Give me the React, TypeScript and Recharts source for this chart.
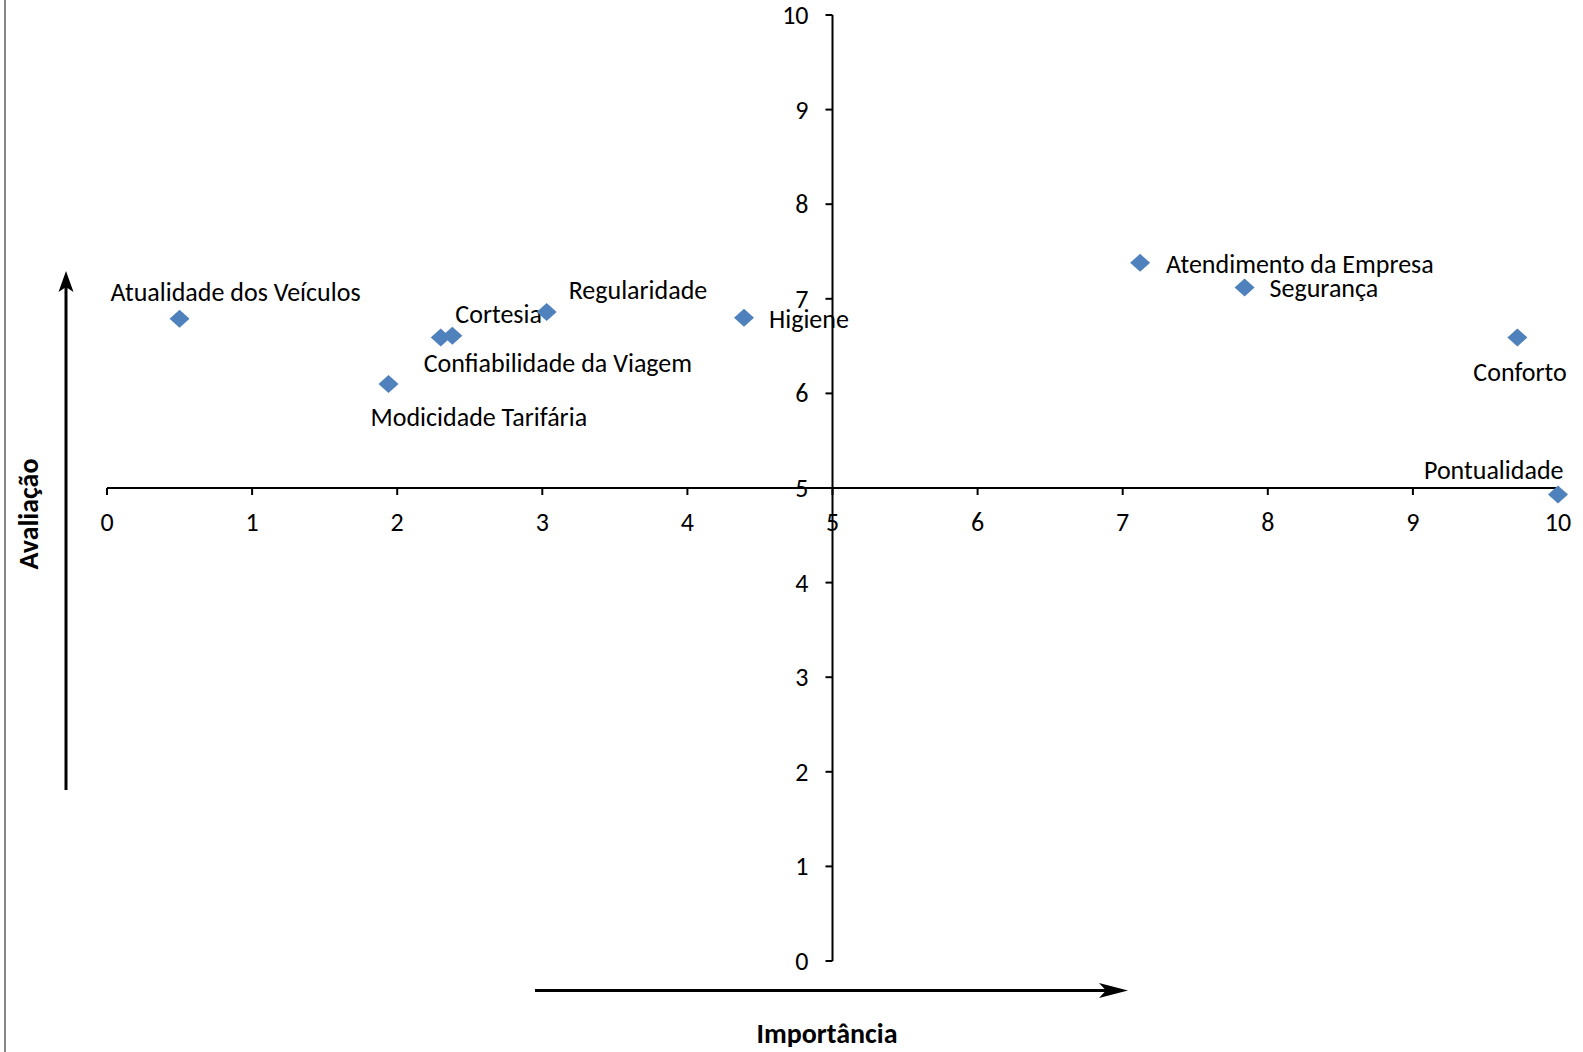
import React from 'react';
import { ScatterChart, Scatter, XAxis, YAxis, ReferenceLine, ReferenceDot } from 'recharts';

const names = [
  'Atualidade dos Veículos',
  'Confiabilidade da Viagem',
  'Cortesia',
  'Modicidade Tarifária',
  'Regularidade',
  'Higiene',
  'Atendimento da Empresa',
  'Segurança',
  'Conforto',
  'Pontualidade',
];
const importancia = [0.5, 2.3, 2.38, 1.94, 3.03, 4.39, 7.12, 7.84, 9.72, 10.0];
const avaliacao = [6.79, 6.59, 6.61, 6.1, 6.86, 6.8, 7.38, 7.12, 6.59, 4.93];
const xTicks = [0, 1, 2, 3, 4, 5, 6, 7, 8, 9, 10];
const yTicks = [0, 1, 2, 3, 4, 5, 6, 7, 8, 9, 10];
const xTitle = 'Importância';
const yTitle = 'Avaliação';

// label placement (pixel offsets from the marker, text-anchor start)
const labelPlacement: Record<string, { dx: number; dy: number }> = {
  'Atualidade dos Veículos': { dx: -69, dy: -27 },
  'Confiabilidade da Viagem': { dx: -17, dy: 25 },
  'Cortesia': { dx: 3, dy: -22 },
  'Modicidade Tarifária': { dx: -18, dy: 33 },
  'Regularidade': { dx: 22, dy: -22 },
  'Higiene': { dx: 25, dy: 1 },
  'Atendimento da Empresa': { dx: 26, dy: 1 },
  'Segurança': { dx: 25, dy: 1 },
  'Conforto': { dx: -44, dy: 34 },
  'Pontualidade': { dx: -134, dy: -25 },
};

const data = names.map((name, i) => ({ name, x: importancia[i], y: avaliacao[i] }));

const FONT = 'Carlito, Lato, "Open Sans", sans-serif';
const FS = 26;
const TFS = 28;
const BLUE = '#4F81BD';

const Diamond = (p: any) => {
  const { cx, cy, payload } = p;
  if (cx == null || cy == null) return null;
  const place = labelPlacement[payload.name] || { dx: 12, dy: 0 };
  return (
    <g>
      <polygon
        points={`${cx},${cy - 9} ${cx + 10},${cy} ${cx},${cy + 9} ${cx - 10},${cy}`}
        fill={BLUE}
      />
      <text
        x={cx + place.dx}
        y={cy + place.dy}
        dominantBaseline="central"
        textAnchor="start"
        fontFamily={FONT}
        fontSize={FS}
        fill="#000"
      >
        {payload.name}
      </text>
    </g>
  );
};

const XTick = ({ cx, cy, value }: any) => (
  <g>
    <line x1={cx} y1={cy} x2={cx} y2={cy + 7} stroke="#000" strokeWidth={2} />
    <text x={cx} y={cy + 34} textAnchor="middle" dominantBaseline="central" fontFamily={FONT} fontSize={FS} fill="#000">
      {value}
    </text>
  </g>
);

const YTick = ({ cx, cy, value }: any) => (
  <g>
    <line x1={cx - 7} y1={cy} x2={cx} y2={cy} stroke="#000" strokeWidth={2} />
    <text x={cx - 24} y={cy} textAnchor="end" dominantBaseline="central" fontFamily={FONT} fontSize={FS} fill="#000">
      {value}
    </text>
  </g>
);

export default function App() {
  return (
    <div style={{ position: 'absolute', left: 0, top: 0, width: 1583, height: 1052, background: '#fff' }}>
      <div style={{ position: 'absolute', left: 0, top: 0 }}>
        <ScatterChart width={1583} height={1052} margin={{ top: 15, right: 25, bottom: 91, left: 107 }}>
          <XAxis type="number" dataKey="x" domain={[0, 10]} ticks={xTicks} hide height={0} />
          <YAxis type="number" dataKey="y" domain={[0, 10]} ticks={yTicks} hide width={0} />
          <ReferenceLine y={5} stroke="#000" strokeWidth={2} ifOverflow="visible" />
          <ReferenceLine x={5} stroke="#000" strokeWidth={2} ifOverflow="visible" />
          {xTicks.map((t) => (
            <ReferenceDot
              key={'xt' + t}
              x={t}
              y={5}
              r={0}
              ifOverflow="visible"
              shape={(p: any) => <XTick cx={p.cx} cy={p.cy} value={t} />}
            />
          ))}
          {yTicks.map((t) => (
            <ReferenceDot
              key={'yt' + t}
              x={5}
              y={t}
              r={0}
              ifOverflow="visible"
              shape={(p: any) => <YTick cx={p.cx} cy={p.cy} value={t} />}
            />
          ))}
          <Scatter data={data} isAnimationActive={false} shape={(p: any) => <Diamond {...p} />} />
        </ScatterChart>
      </div>
      <svg
        width={1583}
        height={1052}
        style={{ position: 'absolute', left: 0, top: 0, pointerEvents: 'none' }}
      >
        <line x1={5} y1={0} x2={5} y2={1052} stroke="#868686" strokeWidth={2} />
        <line x1={66} y1={790} x2={66} y2={285} stroke="#000" strokeWidth={3} />
        <path d="M66,271 L73.5,292 L66,287 L58.5,292 Z" fill="#000" />
        <line x1={535} y1={990.5} x2={1112} y2={990.5} stroke="#000" strokeWidth={3} />
        <path d="M1128,990.5 L1099,983 L1106,990.5 L1099,998 Z" fill="#000" />
        <text
          x={28}
          y={514}
          transform="rotate(-90 28 514)"
          textAnchor="middle"
          dominantBaseline="central"
          fontFamily={FONT}
          fontWeight="bold"
          fontSize={TFS}
          fill="#000"
        >
          {yTitle}
        </text>
        <text
          x={827}
          y={1033}
          textAnchor="middle"
          dominantBaseline="central"
          fontFamily={FONT}
          fontWeight="bold"
          fontSize={TFS}
          fill="#000"
        >
          {xTitle}
        </text>
      </svg>
    </div>
  );
}
